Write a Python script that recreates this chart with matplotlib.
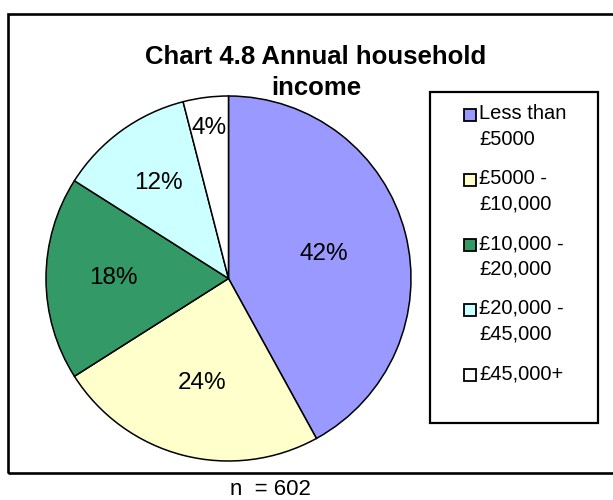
import matplotlib
matplotlib.use("Agg")
import matplotlib.pyplot as plt
import numpy as np
from matplotlib.patches import Rectangle

# Data
categories = ["Less than\n£5000", "£5000 -\n£10,000", "£10,000 -\n£20,000",
              "£20,000 -\n£45,000", "£45,000+"]
shares = [42, 24, 18, 12, 4]
colors = ["#9999FF", "#FFFFCC", "#339966", "#CCFFFF", "#FFFFFF"]
label_dist = [0.54, 0.59, 0.63, 0.65, 0.83]
title = "Chart 4.8 Annual household\nincome"
note = "n  = 602"

plt.rcParams["font.family"] = ["Liberation Sans", "DejaVu Sans"]

W, H = 613, 500
fig = plt.figure(figsize=(W / 100, H / 100), dpi=100)
fig.patch.set_facecolor("white")


def fx(px):
    return px / W


def fy(py):
    # pixel y measured from top -> figure fraction
    return 1 - py / H


# Chart area border (right side runs off the image)
fig.patches.append(Rectangle((fx(8), fy(473)), fx(620 - 8), (473 - 14) / H,
                             transform=fig.transFigure, fill=False,
                             edgecolor="black", linewidth=1.9))

# Pie
cx, cy, r = 228.5, 278.5, 182.5
ax = fig.add_axes([fx(cx - r), fy(cy + r), 2 * r / W, 2 * r / H])
wedges, _ = ax.pie(shares, colors=colors, startangle=90, counterclock=False,
                   wedgeprops=dict(edgecolor="black", linewidth=1.1))
for w in wedges:
    w.set_clip_on(False)
ax.set_xlim(-1, 1)
ax.set_ylim(-1, 1)
ax.set_aspect("equal")
ax.axis("off")

# Percent labels
for w, val, d in zip(wedges, shares, label_dist):
    ang = np.deg2rad((w.theta1 + w.theta2) / 2)
    ax.text(d * np.cos(ang), d * np.sin(ang), f"{val}%", ha="center",
            va="center", fontsize=17.5)

# Title
fig.text(fx(316), fy(45), title, ha="center", va="top", fontsize=18.5,
         fontweight="bold", linespacing=1.38)

# Legend box
lx0, ly0, lx1, ly1 = 430, 92, 598, 423
fig.patches.append(Rectangle((fx(lx0), fy(ly1)), fx(lx1 - lx0), (ly1 - ly0) / H,
                             transform=fig.transFigure, fill=False,
                             edgecolor="black", linewidth=1.6))
for i, (lab, col) in enumerate(zip(categories, colors)):
    top = 105 + i * 65
    fig.patches.append(Rectangle((fx(463.5), fy(top + 16)), fx(12), 12 / H,
                                 transform=fig.transFigure, facecolor=col,
                                 edgecolor="black", linewidth=1.3))
    fig.text(fx(479), fy(top - 1), lab, ha="left", va="top", fontsize=14.5,
             linespacing=1.45)

# Sample size note
fig.text(fx(270), fy(495), note, ha="center", va="baseline", fontsize=16)

fig.savefig("out.png", dpi=100)
plt.close(fig)
